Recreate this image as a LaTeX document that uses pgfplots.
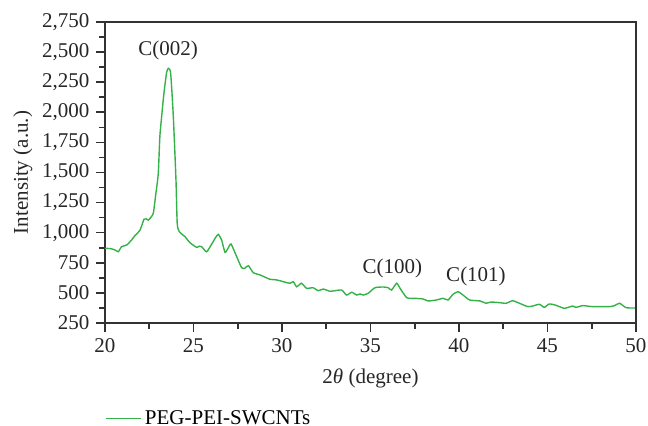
\documentclass[border=0pt]{standalone}
\usepackage{pgfplots}
\pgfplotsset{compat=1.18}
\usepackage{fontspec}
\setmainfont{Liberation Serif}
\definecolor{lgreen}{RGB}{52,178,72}
\definecolor{axgray}{RGB}{50,50,50}
\begin{document}
\begin{tikzpicture}
\begin{axis}[
  name=main,
  scale only axis, width=265.5pt, height=150.5pt,
  xmin=20, xmax=50, ymin=250, ymax=2750,
  xtick={20,25,...,50}, minor xtick={22.5,27.5,...,47.5},
  ytick={250,500,...,2750}, minor ytick={375,625,...,2625},
  xtick pos=bottom, ytick pos=left, tick align=outside,
  major tick length=4.3pt, minor tick length=3pt,
  axis line style={axgray, line width=0.8pt},
  every tick/.style={axgray, line width=0.8pt},
  /pgf/number format/assume math mode=true,
  /pgf/number format/1000 sep={,},
  ticklabel style={font=\fontsize{10.5}{12}\selectfont, text=black!85},
  label style={font=\fontsize{10.5}{12}\selectfont, text=black!85},
  xlabel={2\textit{θ} (degree)},
  ylabel={Intensity (a.u.)},
  ylabel style={yshift=-2pt},
  xlabel style={yshift=-1pt},
  legend style={at={(0,-0.318)}, anchor=west, draw=none, fill=none, inner sep=0pt, font=\fontsize{10.5}{12}\selectfont},
  legend cell align=left,
]
\addplot[lgreen, line width=0.7pt, smooth, tension=0.35] coordinates {
(20,870) (20.3,868) (20.55,858) (20.75,842) (20.94,884) (21.23,898) (21.5,939) (21.69,975) (21.98,1022) (22.2,1111) (22.32,1115) (22.45,1105) (22.6,1130) (22.73,1161) (22.87,1320) (23.01,1493) (23.1,1800) (23.2,1964) (23.33,2158) (23.48,2330) (23.58,2365) (23.71,2324) (23.86,1964) (24.01,1438) (24.08,1078) (24.2,1008) (24.52,967) (24.8,917) (25.18,878) (25.32,888) (25.46,884) (25.74,842) (26.03,906) (26.25,960) (26.4,986) (26.59,939) (26.78,837) (26.95,870) (27.12,906) (27.44,801) (27.72,709) (27.9,705) (28.1,726) (28.38,668) (28.76,649) (29.32,613) (29.6,610) (29.89,601) (30.07,593) (30.45,580) (30.64,593) (30.83,551) (31.1,580) (31.39,538) (31.76,543) (32.05,518) (32.33,532) (32.71,513) (32.9,516) (33.37,524) (33.65,482) (33.94,505) (34.22,482) (34.41,491) (34.59,482) (34.87,497) (35.25,543) (35.72,549) (36.0,543) (36.19,524) (36.48,580) (36.67,538) (37.05,460) (37.51,455) (37.98,449) (38.25,433) (38.73,441) (39.1,455) (39.38,441) (39.66,488) (39.94,510) (40.23,482) (40.6,441) (41.19,433) (41.53,414) (41.81,424) (42.28,419) (42.66,414) (43.03,435) (43.41,414) (43.88,386) (44.16,391) (44.54,405) (44.82,380) (45.1,408) (45.48,397) (45.95,372) (46.42,391) (46.61,380) (46.99,394) (47.55,386) (48.5,386) (48.79,394) (49.07,414) (49.45,377) (50,375)
};
\addlegendentry{PEG-PEI-SWCNTs}
\node[font=\fontsize{10.5}{12}\selectfont, text=black!85] at (axis cs:23.56,2517) {C(002)};
\node[font=\fontsize{10.5}{12}\selectfont, text=black!85] at (axis cs:36.24,707) {C(100)};
\node[font=\fontsize{10.5}{12}\selectfont, text=black!85] at (axis cs:40.96,636) {C(101)};
\end{axis}
\draw[axgray, line width=0.8pt] (main.north west) -- (main.north east) -- (main.south east);
\pgfresetboundingbox
\path[use as bounding box] (-52.5pt,-51.5pt) rectangle (271.5pt,161.5pt);
\end{tikzpicture}
\end{document}
